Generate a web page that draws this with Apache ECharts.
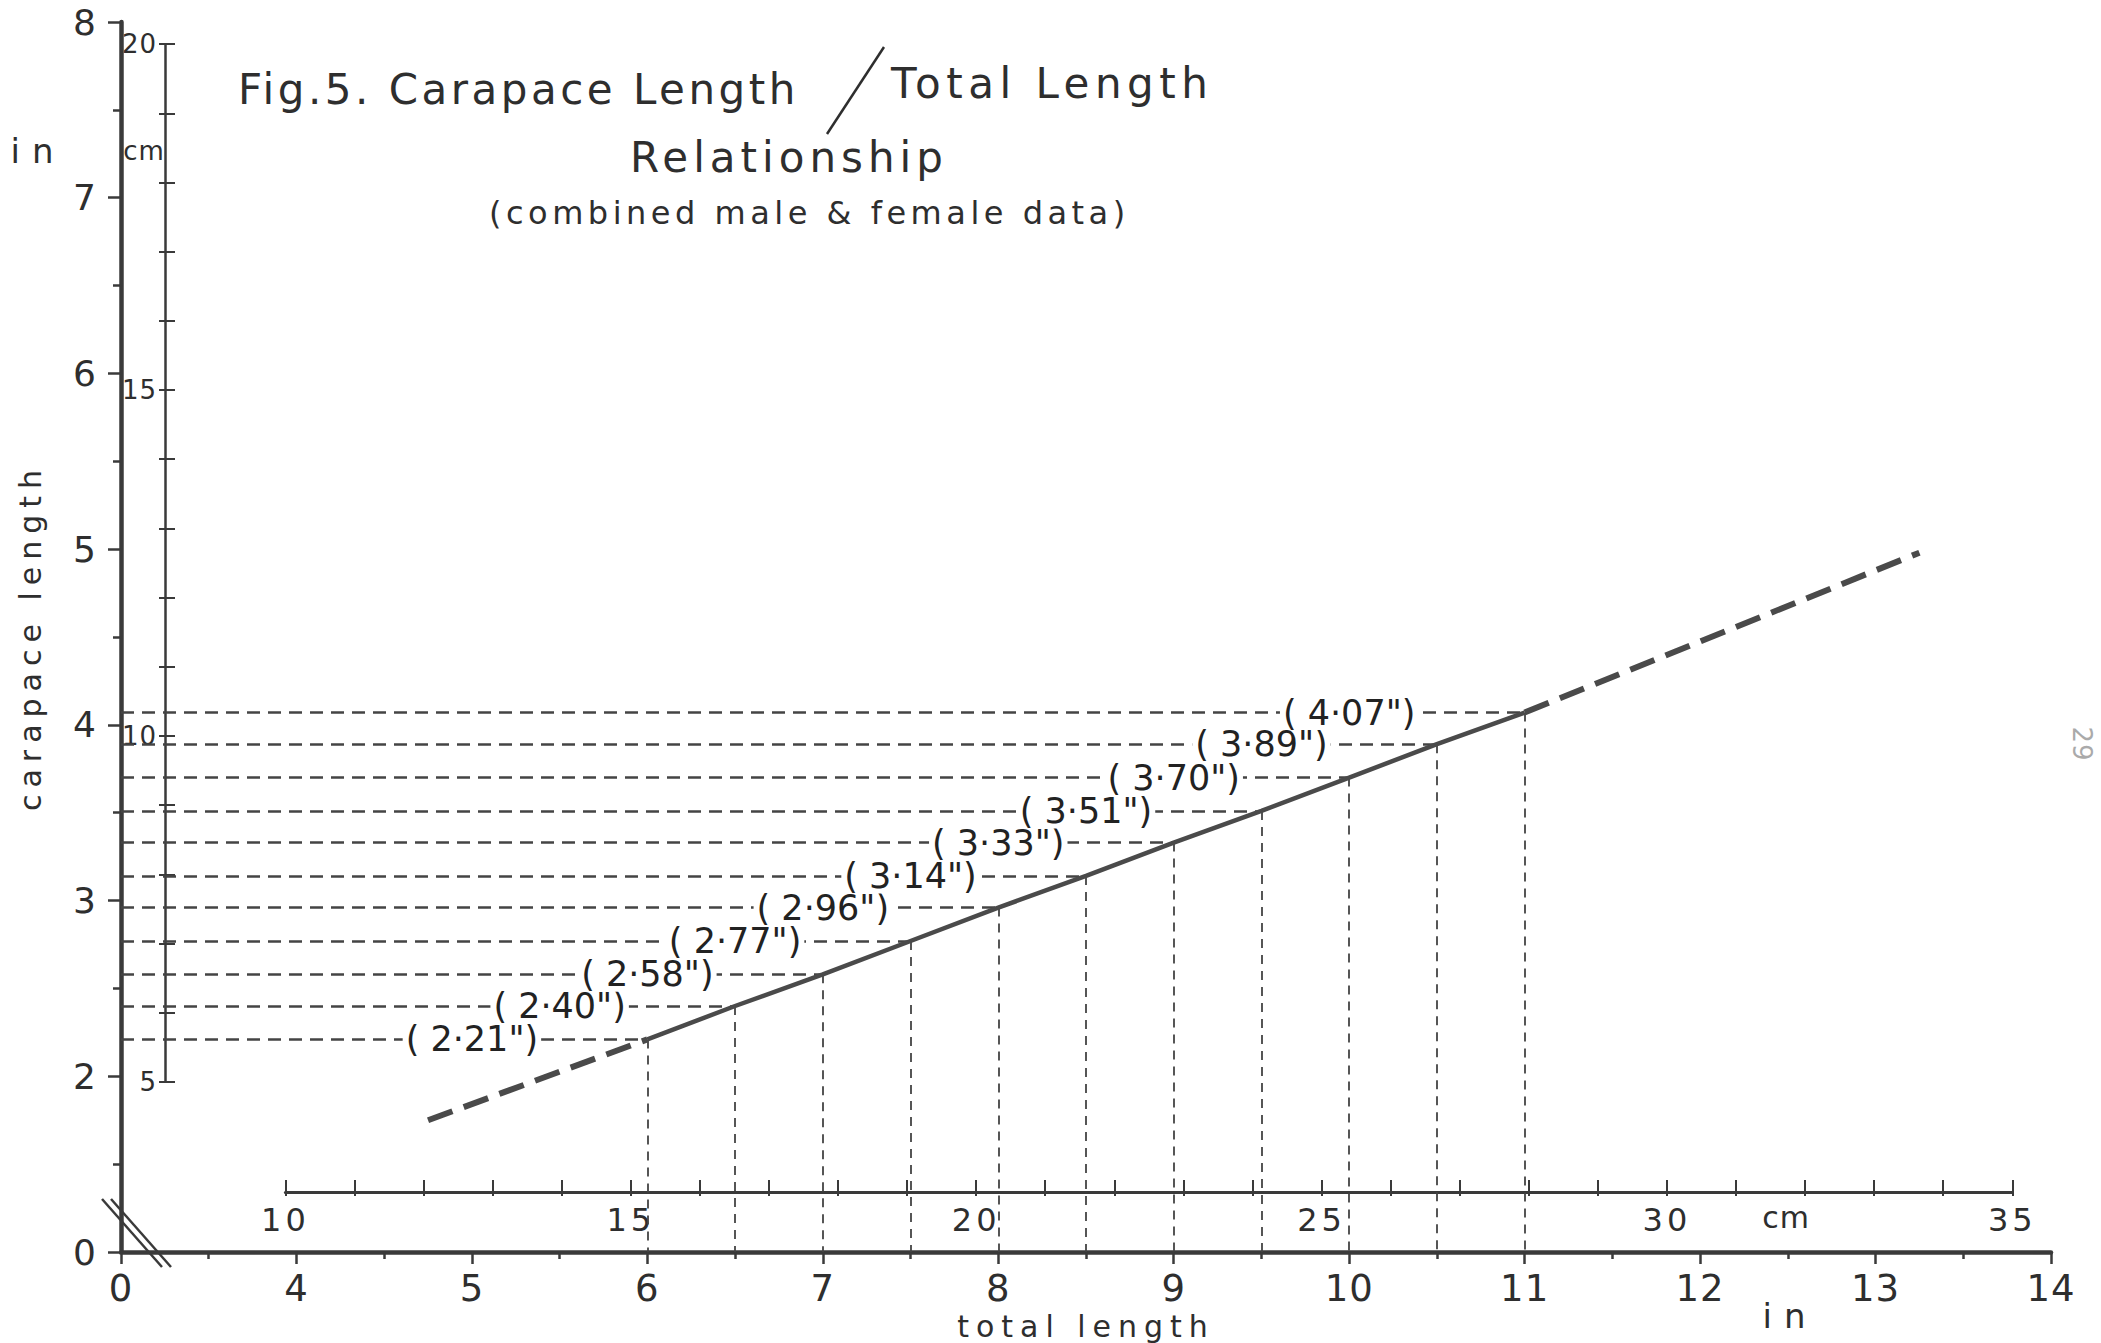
<!DOCTYPE html>
<html><head><meta charset="utf-8">
<script src="https://cdn.jsdelivr.net/npm/echarts@6/dist/echarts.min.js"></script>
<style>
html,body{margin:0;padding:0;background:#fff;}
#chart{width:2101px;height:1343px;}
</style></head><body><div id="chart"></div>
<script>
// ---------------- data ----------------
const totalLengthIn = [6, 6.5, 7, 7.5, 8, 8.5, 9, 9.5, 10, 10.5, 11];
const carapaceLengthIn = [2.21, 2.40, 2.58, 2.77, 2.96, 3.14, 3.33, 3.51, 3.70, 3.89, 4.07];
const lowerExtension = [[4.75, 1.75], [6, 2.21]];
const upperExtension = [[11, 4.07], [13.25, 4.98]];
const xInTickLabels = ['0', '4', '5', '6', '7', '8', '9', '10', '11', '12', '13', '14'];
const yInTickLabels = ['0', '2', '3', '4', '5', '6', '7', '8'];
const cmXTickLabels = ['10', '15', '20', '25', '30', '35'];
const cmYTickLabels = ['5', '10', '15', '20'];

// ---------------- layout ----------------
const W = 2101, H = 1343;
const L = 121, R = 2051, T = 22, B = 1252;
const X0 = 3, X1 = 14, Y0 = 1, Y1 = 8;   // broken axes: X0 / Y0 are drawn as "0"
const CM = 2.54;
const px = v => L + (v - X0) / (X1 - X0) * (R - L);
const py = v => B - (v - Y0) / (Y1 - Y0) * (B - T);
const FONT = '"DejaVu Sans", sans-serif';
const INK = '#2e2e2e';
const LINE = '#3a3a3a';
const CM_X_AXIS_Y = 1192;
const CM_Y_AXIS_X = 165;
const LABEL_SHIFT = 1.0;

const points = totalLengthIn.map((x, i) => [x, carapaceLengthIn[i]]);
const guideLines = [];
points.forEach(([x, y]) => {
  const hs = {type: [13, 8], width: 2.5, color: '#444'};
  const vs = {type: [9, 7], width: 1.8, color: '#444'};
  guideLines.push([{coord: [X0, y], lineStyle: hs}, {coord: [x, y], lineStyle: hs}]);
  guideLines.push([{coord: [x, y], lineStyle: vs}, {coord: [x, Y0], lineStyle: vs}]);
});
const labelPoints = points.map(([x, y]) => ({value: [x - LABEL_SHIFT, y], raw: y}));

const chart = echarts.init(document.getElementById('chart'), null, {renderer: 'svg', width: W, height: H});

const cmXLeft = px(10 / CM), cmXRight = px(35 / CM);
const cmYTop = py(20 / CM), cmYBottom = py(5 / CM);

const gridBase = {containLabel: false, outerBoundsMode: 'none'};

const option = {
  animation: false,
  backgroundColor: '#fff',
  title: [
    {text: 'Fig.5. Carapace Length', left: 238, top: 68, padding: 0,
     textStyle: {fontSize: 42, fontWeight: 'normal', color: INK, fontFamily: FONT}},
    {text: 'Total Length', left: 891, top: 62, padding: 0,
     textStyle: {fontSize: 42, fontWeight: 'normal', color: INK, fontFamily: FONT}},
    {text: 'Relationship', left: 630, top: 136, padding: 0,
     textStyle: {fontSize: 42, fontWeight: 'normal', color: INK, fontFamily: FONT}},
    {text: '(combined male & female data)', left: 489, top: 197, padding: 0,
     textStyle: {fontSize: 32, fontWeight: 'normal', color: INK, fontFamily: FONT}}
  ],
  grid: [
    Object.assign({left: L, right: W - R, top: T, bottom: H - B}, gridBase),
    Object.assign({left: cmXLeft, right: W - cmXRight, top: CM_X_AXIS_Y - 2, height: 2}, gridBase),
    Object.assign({left: CM_Y_AXIS_X, width: 2, top: cmYTop, height: cmYBottom - cmYTop}, gridBase)
  ],
  xAxis: [
    {type: 'value', gridIndex: 0, min: X0, max: X1, interval: 1, position: 'bottom',
     name: 'total length', nameLocation: 'middle', nameGap: 55,
     nameTextStyle: {fontSize: 30, color: INK, fontFamily: FONT},
     axisLine: {onZero: false, lineStyle: {color: LINE, width: 4.5}},
     axisTick: {show: true, length: 12, lineStyle: {color: LINE, width: 2.5}},
     minorTick: {show: true, splitNumber: 2, length: 7, lineStyle: {color: LINE, width: 2.5}},
     axisLabel: {fontSize: 37, color: INK, fontFamily: FONT, margin: 18,
       formatter: v => xInTickLabels[v === X0 ? 0 : v - 3]},
     splitLine: {show: false}},
    {type: 'value', gridIndex: 1, min: 10, max: 35, interval: 1, position: 'bottom',
     axisLine: {onZero: false, lineStyle: {color: LINE, width: 3}},
     axisTick: {show: true, inside: true, length: 12, lineStyle: {color: LINE, width: 2}},
     axisLabel: {fontSize: 32, color: INK, fontFamily: FONT, margin: 12,
       formatter: v => (v % 5 === 0 ? cmXTickLabels[(v - 10) / 5] : '')},
     splitLine: {show: false}},
    {type: 'value', gridIndex: 1, min: 10, max: 35, interval: 1, position: 'bottom',
     axisLine: {show: false, onZero: false},
     axisTick: {show: true, inside: false, length: 4, lineStyle: {color: LINE, width: 2}},
     axisLabel: {show: false}, splitLine: {show: false}},
    {type: 'value', gridIndex: 2, min: 0, max: 1, show: false}
  ],
  yAxis: [
    {type: 'value', gridIndex: 0, min: Y0, max: Y1, interval: 1, position: 'left',
     name: 'carapace length', nameLocation: 'middle', nameGap: 76, nameRotate: 90,
     nameTextStyle: {fontSize: 30, color: INK, fontFamily: FONT},
     axisLine: {onZero: false, lineStyle: {color: LINE, width: 4.5}},
     axisTick: {show: true, length: 13, lineStyle: {color: LINE, width: 2.5}},
     minorTick: {show: true, splitNumber: 2, length: 8, lineStyle: {color: LINE, width: 2.5}},
     axisLabel: {fontSize: 36, color: INK, fontFamily: FONT, margin: 24,
       formatter: v => yInTickLabels[v === Y0 ? 0 : v - 1]},
     splitLine: {show: false}},
    {type: 'value', gridIndex: 1, min: 0, max: 1, show: false},
    {type: 'value', gridIndex: 2, min: 5, max: 20, interval: 1, position: 'left',
     axisLine: {onZero: false, lineStyle: {color: LINE, width: 2.5}},
     axisTick: {show: true, inside: true, length: 10, lineStyle: {color: LINE, width: 2}},
     axisLabel: {fontSize: 26, color: INK, fontFamily: FONT, margin: 8,
       formatter: v => (v % 5 === 0 ? cmYTickLabels[(v - 5) / 5] : '')},
     splitLine: {show: false}},
    {type: 'value', gridIndex: 2, min: 5, max: 20, interval: 1, position: 'left',
     axisLine: {show: false, onZero: false},
     axisTick: {show: true, inside: false, length: 6, lineStyle: {color: LINE, width: 2}},
     axisLabel: {show: false}, splitLine: {show: false}}
  ],
  series: [
    {type: 'line', name: 'fitted line', xAxisIndex: 0, yAxisIndex: 0, data: points,
     symbol: 'none', lineStyle: {color: '#4a4a4a', width: 4.5}, z: 3,
     markLine: {silent: true, symbol: ['none', 'none'], label: {show: false},
       data: guideLines, z: 1}},
    {type: 'line', name: 'lower extension', data: lowerExtension, symbol: 'none',
     lineStyle: {color: '#4a4a4a', width: 6, type: [26, 12]}, z: 3},
    {type: 'line', name: 'upper extension', data: upperExtension, symbol: 'none',
     lineStyle: {color: '#4a4a4a', width: 6, type: [26, 12]}, z: 3},
    {type: 'scatter', name: 'values', data: labelPoints, symbolSize: 1,
     itemStyle: {color: 'rgba(255,255,255,0)'}, z: 6,
     label: {show: true, position: 'inside', fontSize: 35, color: '#222', opacity: 1,
       textBorderWidth: 0, fontFamily: FONT,
       backgroundColor: '#fff', padding: [0, 3],
       formatter: p => '( ' + p.data.raw.toFixed(2).replace('.', '·') + '")'}}
  ],
  graphic: [
    {type: 'line', shape: {x1: 884, y1: 47, x2: 827, y2: 134},
     style: {stroke: INK, lineWidth: 2.5}},
    {type: 'line', shape: {x1: L - 19, y1: B - 53, x2: L + 41, y2: B + 15},
     style: {stroke: LINE, lineWidth: 2.5}, z: 10},
    {type: 'line', shape: {x1: L - 10, y1: B - 53, x2: L + 50, y2: B + 15},
     style: {stroke: LINE, lineWidth: 2.5}, z: 10},
    {type: 'text', x: 38, y: 151,
     style: {text: 'in', fontSize: 34, fontFamily: FONT, fill: INK, textAlign: 'center', textVerticalAlign: 'middle'}},
    {type: 'text', x: 144, y: 151,
     style: {text: 'cm', fontSize: 26, fontFamily: FONT, fill: INK, textAlign: 'center', textVerticalAlign: 'middle'}},
    {type: 'text', x: 1790, y: 1316,
     style: {text: 'in', fontSize: 34, fontFamily: FONT, fill: INK, textAlign: 'center', textVerticalAlign: 'middle'}},
    {type: 'text', x: 1786, y: 1217,
     style: {text: 'cm', fontSize: 30, fontFamily: FONT, fill: INK, textAlign: 'center', textVerticalAlign: 'middle'}},
    {type: 'text', x: 2082, y: 744, rotation: -Math.PI / 2,
     style: {text: '29', fontSize: 26, fontFamily: FONT, fill: '#aaa', textAlign: 'center', textVerticalAlign: 'middle'}}
  ]
};
chart.setOption(option);

const spacingByText = {
  'Fig.5. Carapace Length': 3.5, 'Total Length': 5.5, 'Relationship': 5,
  '(combined male & female data)': 4.5, 'total length': 7, 'carapace length': 7,
  'in': 12, 'cm': 1
};
function applySpacing() {
  document.querySelectorAll('#chart svg text').forEach(t => {
    const txt = t.textContent;
    let s = spacingByText[txt];
    if (s === undefined) {
      const fs = parseFloat(getComputedStyle(t).fontSize);
      s = fs === 32 ? 4 : (fs === 35 ? 0 : 1);
    }
    t.style.letterSpacing = s + 'px';
  });
}
applySpacing();
chart.on('finished', applySpacing);
</script></body></html>
